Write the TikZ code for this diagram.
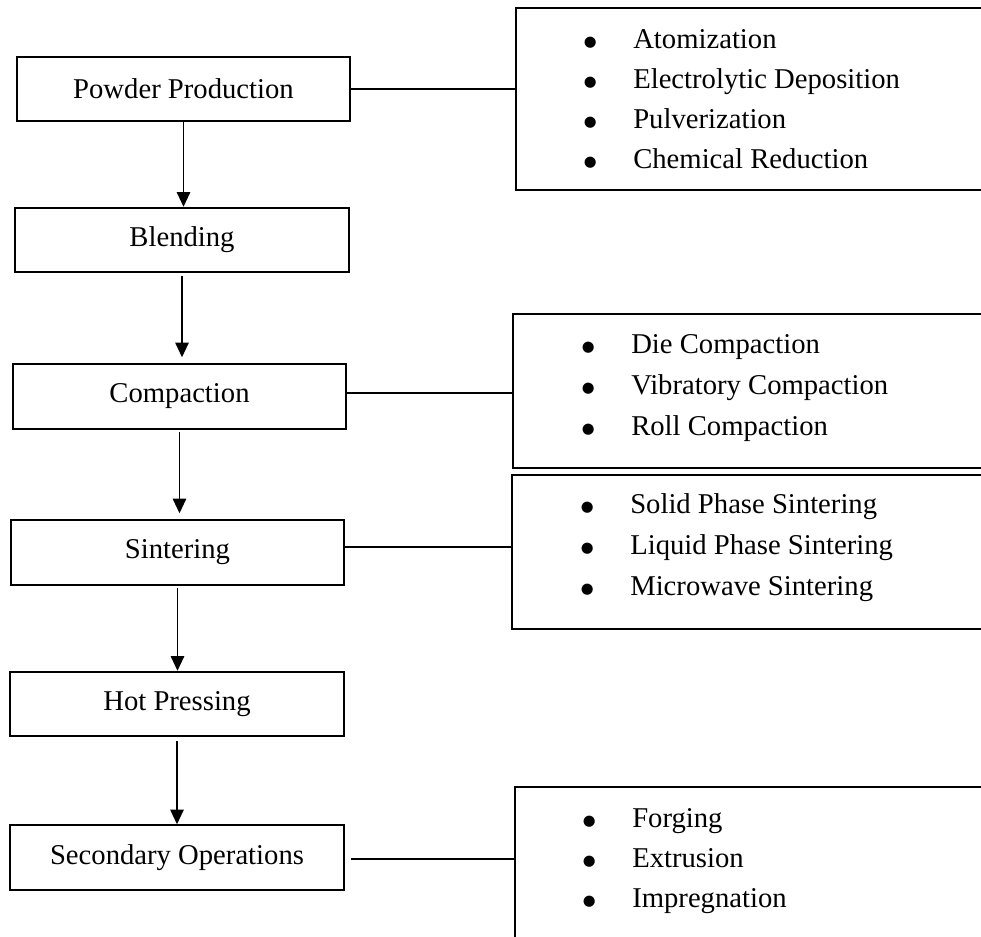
\documentclass[tikz,border=0pt]{standalone}
\usepackage{fontspec}
\setmainfont{Liberation Serif}
\newfontfamily\symfont{DejaVu Sans}
\usetikzlibrary{arrows.meta,positioning,calc}
\newcommand{\bul}{\makebox[36pt][l]{\hspace{-1pt}\raisebox{1.5pt}{\symfont\fontsize{11}{11}\selectfont ●}}}
\tikzset{
  stage/.style={draw,line width=1.3pt,minimum width=250pt,minimum height=48.5pt,inner sep=0pt,font=\fontsize{21.5}{26}\selectfont},
  listbox/.style={draw,line width=1.3pt,anchor=north west,minimum width=400pt,inner sep=0pt},
  item/.style={anchor=base west,inner sep=0pt,font=\fontsize{21.5}{26}\selectfont},
  ar/.style={-{Triangle[length=11pt,width=10pt]},line width=1.3pt},
  ln/.style={line width=1.3pt},
}
\begin{document}
\begin{tikzpicture}[x=0.75pt,y=-0.75pt]
\useasboundingbox (0,0) rectangle (981,936);
\clip (0,0) rectangle (981,936);
% process stages
\node[stage] (pp) at (183.5,89) {Powder Production};
\node[stage] (bl) at (182,240) {Blending};
\node[stage] (co) at (179.5,396.5) {Compaction};
\node[stage] (si) at (177.5,552.5) {Sintering};
\node[stage] (hp) at (177,704) {Hot Pressing};
\node[stage] (so) at (177,857.5) {Secondary Operations};
% method lists (run off the right edge)
\node[listbox,minimum height=136.5pt] (r1) at (515,7) {};
\node[listbox,minimum height=115.5pt] (r2) at (512,313) {};
\node[listbox,minimum height=115.5pt] (r3) at (511,474) {};
\node[listbox,minimum height=150pt] (r4) at (514,786) {};
\foreach \lbl [count=\i from 0] in {Atomization,Electrolytic Deposition,Pulverization,Chemical Reduction}
  \node[item] (r1-\i) at ($(r1.north west)+(70,41+40*\i)$) {\bul\lbl};
\foreach \lbl [count=\i from 0] in {Die Compaction,Vibratory Compaction,Roll Compaction}
  \node[item] (r2-\i) at ($(r2.north west)+(71,40+41*\i)$) {\bul\lbl};
\foreach \lbl [count=\i from 0] in {Solid Phase Sintering,Liquid Phase Sintering,Microwave Sintering}
  \node[item] (r3-\i) at ($(r3.north west)+(71,39+41*\i)$) {\bul\lbl};
\foreach \lbl [count=\i from 0] in {Forging,Extrusion,Impregnation}
  \node[item] (r4-\i) at ($(r4.north west)+(70,41+40*\i)$) {\bul\lbl};
% flow
\draw[ar] (pp.south) -- (pp.south |- bl.north);
\draw[ar,shorten <=2pt,shorten >=4.5pt] (bl.south) -- (bl.south |- co.north);
\draw[ar,shorten <=2pt,shorten >=4.5pt] (co.south) -- (co.south |- si.north);
\draw[ar,shorten <=1.5pt] (si.south) -- (si.south |- hp.north);
\draw[ar,shorten <=3pt] (hp.south) -- (hp.south |- so.north);
% links to lists
\draw[ln] (pp.east) -- (pp.east -| r1.west);
\draw[ln] ([yshift=2.5pt]co.east) -- ([yshift=2.5pt]co.east -| r2.west);
\draw[ln] ([yshift=4pt]si.east) -- ([yshift=4pt]si.east -| r3.west);
\draw[ln,shorten <=5pt] ([yshift=-1pt]so.east) -- ([yshift=-1pt]so.east -| r4.west);
\end{tikzpicture}
\end{document}
